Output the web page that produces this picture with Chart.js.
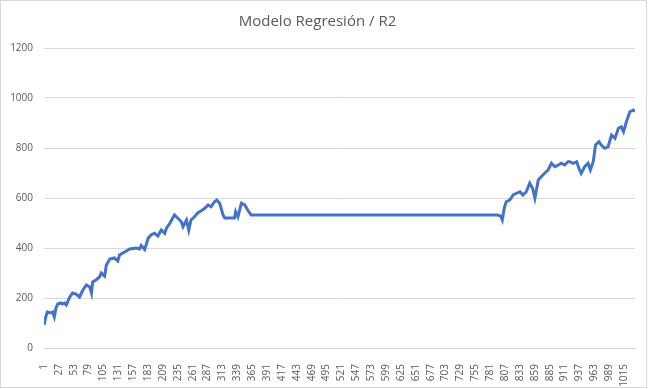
<!DOCTYPE html>
<html>
<head>
<meta charset="utf-8">
<script src="https://cdn.jsdelivr.net/npm/chart.js@4"></script>
<style>
  html, body { margin: 0; padding: 0; background: #fff; }
</style>
</head>
<body>
<canvas id="grafico" width="650" height="389"></canvas>
<script>
// lecturas del gráfico: índice de la muestra y valor
const indices = [1,5,7,12,16,19,22,25,30,33,37,40,46,51,57,63,69,75,81,84,86,92,98,101,107,110,116,124,130,133,142,151,162,168,171,177,183,188,194,200,206,212,215,221,229,235,241,244,250,254,258,264,270,276,282,288,293,299,303,308,314,317,334,336,340,346,352,357,363,794,799,802,806,809,815,821,827,833,838,844,850,855,859,865,870,876,882,888,894,900,905,911,917,920,926,932,936,940,946,952,956,961,965,971,975,981,987,993,999,1005,1010,1014,1019,1025,1031,1034];
const valores = [92,132,144,140,144,124,160,176,180,176,180,172,204,220,216,204,232,252,244,220,264,272,284,300,288,332,356,360,348,372,384,396,400,396,410,394,439,452,459,448,472,459,479,499,532,519,505,485,512,472,512,525,541,549,559,572,565,585,592,579,532,520,520,545,525,579,572,552,532,532,528,512,565,585,592,612,619,625,612,625,659,639,599,672,685,699,712,739,725,732,739,732,745,745,739,745,719,699,725,739,712,745,812,825,812,799,805,852,839,879,885,865,905,945,952,945];
const etiquetasX = [1,27,53,79,105,131,157,183,209,235,261,287,313,339,365,391,417,443,469,495,521,547,573,599,625,651,677,703,729,755,781,807,833,859,885,911,937,963,989,1015];

const gris = "#595959";
const marco = {
    id: 'marco',
    beforeDraw(chart) {
        const c = chart.ctx;
        c.save();
        c.fillStyle = "#fff";
        c.fillRect(0, 0, chart.width, chart.height);
        c.strokeStyle = "#d9d9d9";
        c.lineWidth = 1;
        c.strokeRect(0.5, 0.5, 646, 387);
        c.restore();
    }
};

var ctx = document.getElementById("grafico").getContext("2d");
new Chart(ctx, {
    type: 'line',
    data: {
        datasets: [{
            label: 'R2',
            data: indices.map((x, i) => ({x: x, y: valores[i]})),
            borderColor: "#4472C4",
            borderWidth: 3,
            pointRadius: 0,
            tension: 0,
            fill: false
        }]
    },
    options: {
        responsive: false,
        animation: false,
        layout: { padding: { left: 0, right: 15, top: 0, bottom: 0 } },
        plugins: {
            legend: { display: false },
            tooltip: { enabled: false },
            title: {
                display: true,
                text: 'Modelo Regresión / R2',
                color: gris,
                font: { family: "'Open Sans'", size: 15, weight: 'normal' },
                padding: { top: 13, bottom: 17 }
            }
        },
        scales: {
            x: {
                type: 'linear',
                min: 1,
                max: 1034,
                grid: { display: false },
                border: { display: true, color: "#d9d9d9", width: 1 },
                afterBuildTicks: (s) => { s.ticks = etiquetasX.map(v => ({ value: v })); },
                afterFit: (s) => { s.height = 41; },
                ticks: {
                    autoSkip: false,
                    minRotation: 90,
                    maxRotation: 90,
                    padding: 8,
                    color: gris,
                    font: { family: "'Open Sans'", size: 10 },
                    callback: (v) => String(v)
                }
            },
            y: {
                min: 0,
                max: 1200,
                grid: { color: "#d9d9d9", drawTicks: false },
                border: { display: false },
                afterFit: (s) => { s.width = 44; },
                ticks: {
                    stepSize: 200,
                    padding: 11,
                    color: gris,
                    font: { family: "'Open Sans'", size: 10 },
                    callback: (v) => String(v)
                }
            }
        }
    },
    plugins: [marco]
});
</script>
</body>
</html>
